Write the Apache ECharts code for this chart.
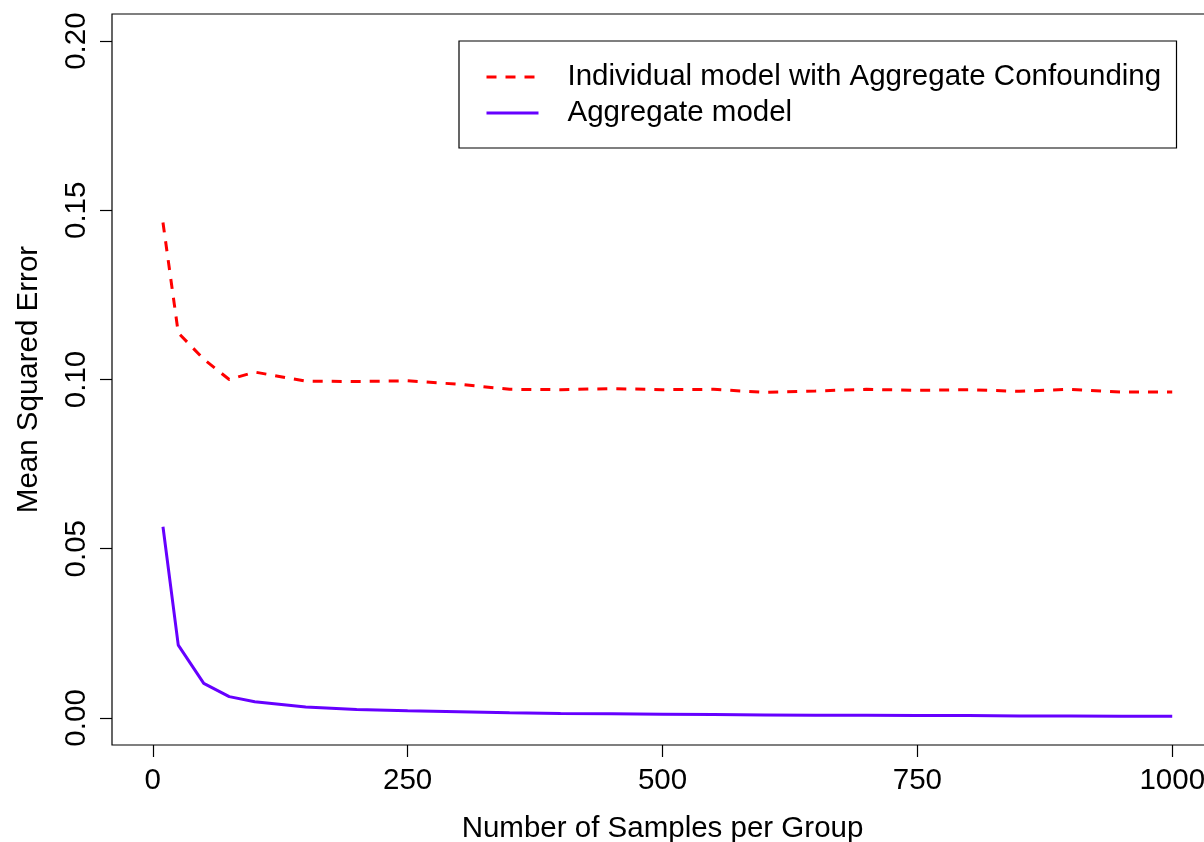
<!DOCTYPE html>
<html>
<head>
<meta charset="utf-8">
<script src="https://cdn.jsdelivr.net/npm/echarts@6/dist/echarts.min.js"></script>
<style>
  html, body { margin: 0; padding: 0; background: #fff; }
  #chart { width: 1204px; height: 842px; }
</style>
</head>
<body>
<div id="chart"></div>
<script>
// samples per group (x) and MSE
const sampleSizes = [10, 25, 50, 75, 100, 150, 200, 250, 300, 350, 400, 450, 500,
  550, 600, 650, 700, 750, 800, 850, 900, 950, 1000];
const individualMSE = [0.1464, 0.1138, 0.1060, 0.1000, 0.1022, 0.0995, 0.0994, 0.0996,
  0.0986, 0.0971, 0.0970, 0.0973, 0.0970, 0.0971, 0.0962, 0.0966, 0.0971, 0.0968,
  0.0970, 0.0965, 0.0971, 0.0963, 0.0963];
const aggregateMSE = [0.0565, 0.0215, 0.0102, 0.0063, 0.0048, 0.0032, 0.0025, 0.0021,
  0.0018, 0.0015, 0.0013, 0.0012, 0.0011, 0.0010, 0.0009, 0.0008, 0.0008, 0.0007,
  0.0007, 0.0006, 0.0006, 0.0005, 0.0005];
const xTicks = [0, 250, 500, 750, 1000];
const yTicks = [0, 0.05, 0.10, 0.15, 0.20];

const FONT = "'Liberation Sans', Arial, Helvetica, sans-serif";
const FS = 29.5;

const toPairs = (xs, ys) => xs.map((x, i) => [x, ys[i]]);

const chart = echarts.init(document.getElementById('chart'));
chart.setOption({
  animation: false,
  backgroundColor: '#fff',
  textStyle: { fontFamily: FONT },
  grid: {
    left: 112, top: 14, width: 1101, height: 731,
    outerBoundsMode: 'none',
    containLabel: false,
    show: true, borderColor: '#000', borderWidth: 1.2, backgroundColor: 'transparent'
  },
  legend: {
    left: 459, top: 41,
    orient: 'vertical',
    backgroundColor: '#fff',
    borderColor: '#000', borderWidth: 1.2, borderRadius: 0,
    padding: [21, 12, 20, 26],
    itemGap: 6,
    itemWidth: 52, itemHeight: 14,
    selectedMode: false,
    itemStyle: { opacity: 0, borderWidth: 0 },
    lineStyle: { width: 3 },
    textStyle: {
      fontFamily: FONT, fontSize: FS, color: '#000',
      lineHeight: 30, width: 597, padding: [0, 0, 0, 24]
    },
    data: ['Individual model with Aggregate Confounding', 'Aggregate model']
  },
  xAxis: {
    type: 'value', min: -40, max: 1040,
    name: 'Number of Samples per Group',
    nameLocation: 'middle', nameGap: 69,
    nameTextStyle: { fontFamily: FONT, fontSize: FS, color: '#000' },
    axisLine: { show: false, onZero: false },
    splitLine: { show: false },
    axisTick: { show: true, inside: false, length: 12, customValues: xTicks,
      lineStyle: { color: '#000', width: 1.2 } },
    axisLabel: { customValues: xTicks, margin: 21, fontFamily: FONT, fontSize: FS, color: '#000',
      formatter: v => String(v) }
  },
  yAxis: {
    type: 'value', min: -0.008, max: 0.208,
    name: 'Mean Squared Error',
    nameLocation: 'middle', nameGap: 68,
    nameTextStyle: { fontFamily: FONT, fontSize: FS, color: '#000' },
    axisLine: { show: false, onZero: false },
    splitLine: { show: false },
    axisTick: { show: true, inside: false, length: 12, customValues: yTicks,
      lineStyle: { color: '#000', width: 1.2 } },
    axisLabel: { customValues: yTicks, rotate: 90, margin: 20,
      fontFamily: FONT, fontSize: FS, color: '#000',
      formatter: v => v.toFixed(2) }
  },
  series: [
    {
      name: 'Individual model with Aggregate Confounding',
      type: 'line',
      data: toPairs(sampleSizes, individualMSE),
      symbol: 'none',
      color: '#ff0000',
      lineStyle: { color: '#ff0000', width: 3, type: [10, 9] }
    },
    {
      name: 'Aggregate model',
      type: 'line',
      data: toPairs(sampleSizes, aggregateMSE),
      symbol: 'none',
      color: '#6600ff',
      lineStyle: { color: '#6600ff', width: 3 }
    }
  ]
});
</script>
</body>
</html>
